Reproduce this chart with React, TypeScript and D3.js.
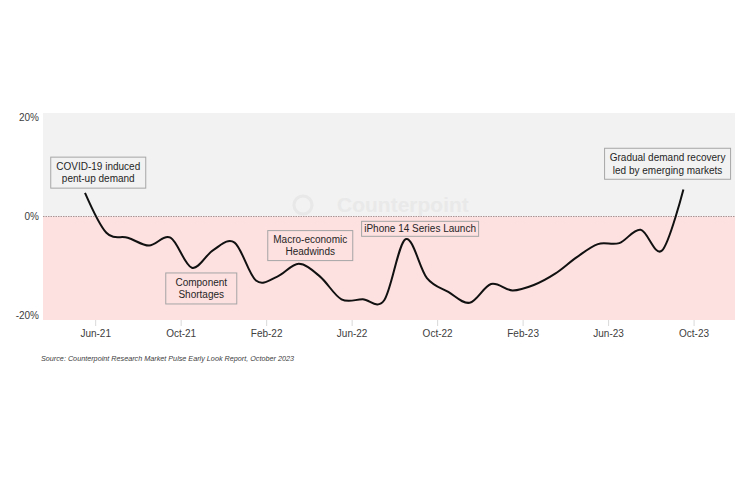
import React from "react";
import * as d3 from "d3";

const months = [
  "May-21","Jun-21","Jul-21","Aug-21","Sep-21","Oct-21","Nov-21","Dec-21",
  "Jan-22","Feb-22","Mar-22","Apr-22","May-22","Jun-22","Jul-22","Aug-22","Sep-22","Oct-22","Nov-22","Dec-22",
  "Jan-23","Feb-23","Mar-23","Apr-23","May-23","Jun-23","Jul-23","Aug-23","Sep-23",
];
const growth = [
  4.8, -3.3, -4.3, -5.9, -4.3, -10.4, -6.8, -5.3,
  -13.0, -12.2, -9.6, -12.2, -16.8, -16.8, -17.0, -4.6, -12.5, -15.3, -17.5, -13.7,
  -15.0, -13.9, -11.6, -8.3, -5.6, -5.4, -2.7, -6.9, 5.5,
];
const tickLabels = ["Jun-21","Oct-21","Feb-22","Jun-22","Oct-22","Feb-23","Jun-23","Oct-23"];
const yTicks = [20, 0, -20];

const annotations = [
  { lines: ["COVID-19 induced", "pent-up demand"], mx: 0.62, v: 8.9, w: 95, h: 31, fill: "#f2f2f2" },
  { lines: ["Component", "Shortages"], mx: 5.44, v: -14.6, w: 71, h: 31, fill: "#fde0e0" },
  { lines: ["Macro-economic", "Headwinds"], mx: 10.54, v: -5.9, w: 85, h: 30, fill: "#fde0e0" },
  { lines: ["iPhone 14 Series Launch"], mx: 15.68, v: -2.5, w: 117, h: 15, fill: "#fde0e0" },
  { lines: ["Gradual demand recovery", "led by emerging markets"], mx: 27.26, v: 10.7, w: 126, h: 31, fill: "#f2f2f2" },
];

const W = 750, H = 500;
const plot = { left: 43, right: 735, top: 113, bottom: 320 };
const font = "Arial, 'Liberation Sans', sans-serif";

export default function App() {
  const x = d3.scaleLinear().domain([0, months.length - 1]).range([85, 683.4]);
  const y = d3.scaleLinear().domain([-21, 21]).range([plot.bottom, plot.top]);
  const line = d3
    .line<number>()
    .x((_, i) => x(i))
    .y((d) => y(d))
    .curve(d3.curveCardinal.tension(0));
  const path = line(growth) || "";
  const tickPos = tickLabels.map((_, i) => x(1 + i * 4 - 0.5));

  return (
    <svg
      width={W}
      height={H}
      style={{ position: "absolute", left: 0, top: 0, background: "#fff" }}
      fontFamily={font}
    >
      <rect x={0} y={0} width={W} height={H} fill="#ffffff" />
      <rect x={plot.left} y={plot.top} width={plot.right - plot.left} height={y(0) - plot.top} fill="#f2f2f2" />
      <rect x={plot.left} y={y(0)} width={plot.right - plot.left} height={plot.bottom - y(0)} fill="#fde0e0" />

      {/* watermark */}
      <g opacity={0.6}>
        <circle cx={303} cy={205} r={9} fill="none" stroke="#e2e2e2" strokeWidth={3} />
        <text x={337} y={212} fontSize={21} fontWeight="bold" fill="#e4e4e4">Counterpoint</text>
      </g>

      <line x1={plot.left} x2={plot.right} y1={y(0)} y2={y(0)} stroke="#a89494" strokeWidth={1} strokeDasharray="1.5,1" />

      {tickPos.map((tx, i) => (
        <g key={i}>
          <line x1={tx} x2={tx} y1={plot.bottom} y2={plot.bottom + 6} stroke="#d9d9d9" strokeWidth={1} />
          <text x={tx} y={337} textAnchor="middle" fontSize={10} fill="#404040">{tickLabels[i]}</text>
        </g>
      ))}

      {yTicks.map((t) => (
        <text key={t} x={39} y={y(t) + 3.5} textAnchor="end" fontSize={10} fill="#404040">{t}%</text>
      ))}

      {annotations.map((a, i) => {
        const cx = x(a.mx);
        const cy = y(a.v);
        const n = a.lines.length;
        return (
          <g key={i}>
            <rect x={cx - a.w / 2} y={cy - a.h / 2} width={a.w} height={a.h} fill={a.fill} stroke="#a6a6a6" strokeWidth={1} />
            {a.lines.map((l, j) => (
              <text key={j} x={cx} y={cy + (j - (n - 1) / 2) * 12.5 + 3.6} textAnchor="middle" fontSize={10} fill="#262626">{l}</text>
            ))}
          </g>
        );
      })}

      <path d={path} fill="none" stroke="#111" strokeWidth={2} />

      <text x={41} y={361} fontSize={8} fontStyle="italic" fill="#404040" textLength={253} lengthAdjust="spacingAndGlyphs">
        Source: Counterpoint Research Market Pulse Early Look Report, October 2023
      </text>
    </svg>
  );
}
